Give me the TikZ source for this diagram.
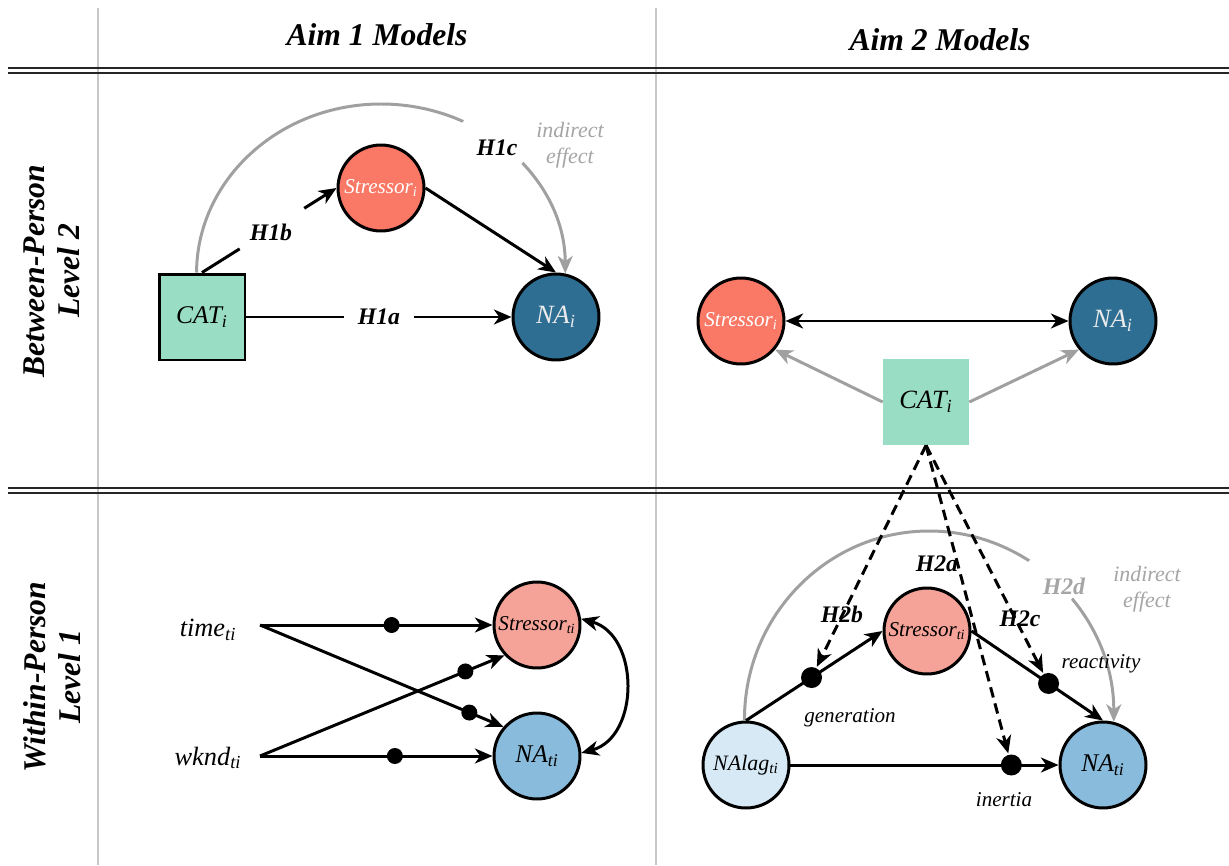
\documentclass[tikz,border=0pt]{standalone}
\usepackage{fontspec}
\setmainfont{Liberation Serif}
\usetikzlibrary{arrows.meta}

\definecolor{mint}{RGB}{152,221,196}
\definecolor{salmon}{RGB}{250,120,102}
\definecolor{deepblue}{RGB}{46,110,146}
\definecolor{palesalmon}{RGB}{245,162,152}
\definecolor{midblue}{RGB}{137,188,220}
\definecolor{paleblue}{RGB}{214,233,245}
\definecolor{arcgray}{RGB}{160,160,160}
\definecolor{notegray}{RGB}{165,165,165}
\definecolor{rulegray}{RGB}{200,200,200}

\begin{document}
\begin{tikzpicture}[x=0.02cm, y=-0.02cm,
  >={Stealth[length=10pt,width=8.5pt,inset=3pt]},
  arr/.style={->, line width=1.7pt},
  dblarr/.style={<->, line width=1.7pt},
  garr/.style={->, line width=1.7pt, draw=arcgray},
  darr/.style={->, line width=1.7pt, dash pattern=on 6pt off 3.5pt},
  circ/.style={circle, draw=black, line width=1.7pt, minimum size=1.72cm, inner sep=0pt},
  sq/.style={rectangle, minimum size=1.72cm, inner sep=0pt, fill=mint},
  head/.style={font=\fontsize{18pt}{20pt}\selectfont\bfseries\itshape},
  hyp/.style={font=\fontsize{13.5pt}{15pt}\selectfont\bfseries\itshape},
  lab/.style={font=\fontsize{12pt}{14pt}\selectfont\itshape},
  remark/.style={font=\fontsize{12.5pt}{15pt}\selectfont\itshape, text=notegray, align=center},
  linegap/.style={sloped, fill=white, inner sep=0pt, minimum height=10pt, minimum width=#1},
  bigdot/.style={circle, fill=black, inner sep=0pt, minimum size=0.42cm},
  smalldot/.style={circle, fill=black, inner sep=0pt, minimum size=0.32cm},
]
\useasboundingbox (0,0) rectangle (1229,865);
\fill[white] (0,0) rectangle (1229,865);

% table rules
\draw[rulegray, line width=0.6pt] (98,8) -- (98,865);
\draw[rulegray, line width=0.6pt] (656,8) -- (656,865);
\foreach \yy in {68,73,488,493}
  \draw[black!85, line width=1.3pt] (8,\yy) -- (1229,\yy);

% column and row headings
\node[head, anchor=base] (aim1) at (377,46) {Aim 1 Models};
\node[head, anchor=base] (aim2) at (940,51) {Aim 2 Models};
\node[head, rotate=90, align=center] (lvl2) at (52,271) {Between-Person\\Level 2};
\node[head, rotate=90, align=center] (lvl1) at (52,677) {Within-Person\\Level 1};

% ---------- Aim 1, level 2 ----------
\node[sq, draw=black, line width=1.7pt, font=\fontsize{14.5pt}{16pt}\selectfont\itshape] (cat1) at (202,317) {CAT\textsubscript{i}};
\node[circ, fill=salmon, text=white, font=\fontsize{12pt}{14pt}\selectfont\itshape] (str1) at (381,188) {Stressor\textsubscript{i}};
\node[circ, fill=deepblue, text=white!92!black, font=\fontsize{15pt}{17pt}\selectfont\itshape] (na1) at (556,317) {NA\textsubscript{i}};

% indirect path: two quarter-ellipse pieces over the mediator
\draw[garr] (cat1.97) .. controls (197,180) and (279,104) .. (381,104)
  .. controls (483,104) and (565,180) .. (na1.78)
  node[linegap=1.44cm, pos=0.42] (gap1) {};
\node[hyp] (h1c) at (497,148) {H1c};
\node[remark] (ie1) at (570,145) {indirect\\effect};

\draw[arr] (cat1.north) -- node[linegap=1.52cm, pos=0.52] (gap2) {} (str1.west);
\node[hyp] (h1b) at (271,232) {H1b};
\draw[arr] (cat1.east) -- node[linegap=1.4cm, pos=0.5] (gap3) {} node[hyp] (h1a) {H1a} (na1.west);
\draw[arr] (str1.east) -- (na1.north);

% ---------- Aim 2, level 2 ----------
\node[circ, fill=salmon, text=white, font=\fontsize{12pt}{14pt}\selectfont\itshape] (str2) at (741,321) {Stressor\textsubscript{i}};
\node[circ, fill=deepblue, text=white!92!black, font=\fontsize{15pt}{17pt}\selectfont\itshape] (na2) at (1113,321) {NA\textsubscript{i}};
\node[sq, font=\fontsize{15pt}{17pt}\selectfont\itshape] (cat2) at (926,402) {CAT\textsubscript{i}};
\draw[dblarr] (str2.east) -- (na2.west);
\draw[garr] (cat2.west) -- (str2.-40);
\draw[garr] (cat2.east) -- (na2.220);

% ---------- Aim 1, level 1 ----------
\node[font=\fontsize{15pt}{17pt}\selectfont\itshape] (time) at (208,630) {time\textsubscript{ti}};
\node[font=\fontsize{15pt}{17pt}\selectfont\itshape] (wknd) at (208,758) {wknd\textsubscript{ti}};
\coordinate (tO) at (260,625);
\coordinate (wO) at (260,756);
\node[circ, fill=palesalmon, font=\fontsize{12pt}{14pt}\selectfont\itshape] (str3) at (537,625) {Stressor\textsubscript{ti}};
\node[circ, fill=midblue, font=\fontsize{14.5pt}{16pt}\selectfont\itshape] (na3) at (537,756) {NA\textsubscript{ti}};

\draw[arr] (tO) -- node[smalldot, pos=0.566] (d1) {} (str3.west);
\draw[arr] (tO) -- node[smalldot, pos=0.86] (d2) {} (na3.139);
\draw[arr] (wO) -- node[smalldot, pos=0.84] (d3) {} (str3.223);
\draw[arr] (wO) -- node[smalldot, pos=0.58] (d4) {} (na3.west);
\draw[dblarr] (str3.8) .. controls (640,635) and (640,737) .. (na3.4);

% ---------- Aim 2, level 1 ----------
\node[circ, fill=paleblue, font=\fontsize{12.5pt}{14pt}\selectfont\itshape] (lag4) at (746,765) {NAlag\textsubscript{ti}};
\node[circ, fill=palesalmon, font=\fontsize{12pt}{14pt}\selectfont\itshape] (str4) at (927,631) {Stressor\textsubscript{ti}};
\node[circ, fill=midblue, font=\fontsize{14.5pt}{16pt}\selectfont\itshape] (na4) at (1103,765) {NA\textsubscript{ti}};

\draw[garr] (lag4.92) .. controls (744,616) and (827,531) .. (929,531)
  .. controls (1031,531) and (1114,616) .. (na4.76)
  node[linegap=1.14cm, pos=0.46] (gap4) {};
\node[hyp, text=notegray] (h2d) at (1064,586) {H2d};
\node[remark] (ie2) at (1147,589) {indirect\\effect};

\draw[arr] (lag4.north) -- node[bigdot, pos=0.48] (gen) {} (str4.west);
\draw[arr] (str4.east) -- node[bigdot, pos=0.586] (react) {} (na4.north);
\draw[arr] (lag4.east) -- node[bigdot, pos=0.824] (inert) {} (na4.west);

\draw[darr] (cat2.south) -- (gen);
\draw[darr] (cat2.south) -- (inert);
\draw[darr] (cat2.south) -- (react);

\node[hyp] (h2a) at (937,564) {H2a};
\node[hyp] (h2b) at (842,614) {H2b};
\node[hyp] (h2c) at (1020,619) {H2c};
\node[lab] (genl) at (850,718) {generation};
\node[lab] (reactl) at (1101,664) {reactivity};
\node[lab] (inertl) at (1004,800) {inertia};
\end{tikzpicture}
\end{document}
